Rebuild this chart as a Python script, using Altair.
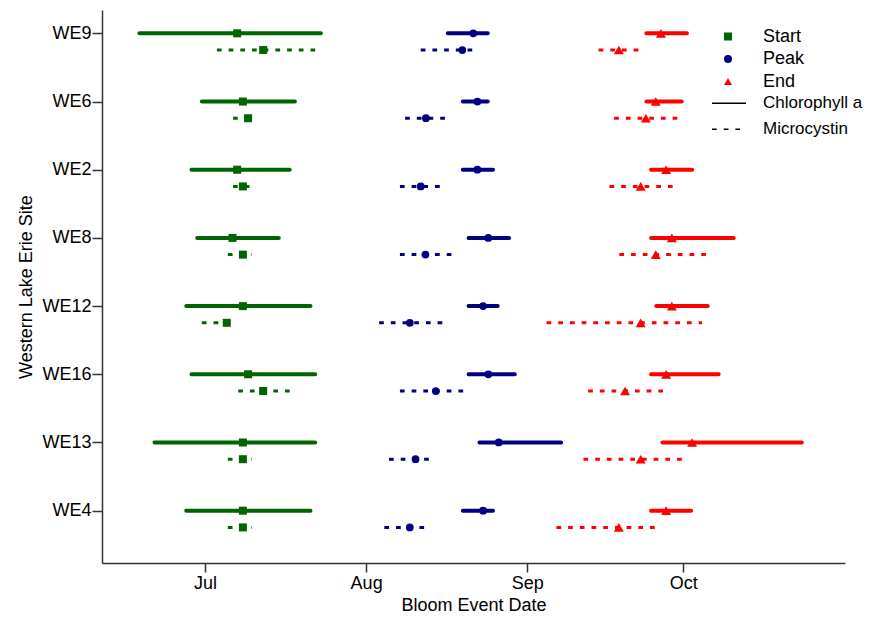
import altair as alt
import pandas as pd

# Sites, top to bottom
sites = ["WE9", "WE6", "WE2", "WE8", "WE12", "WE16", "WE13", "WE4"]
events = ["Start", "Peak", "End"]
variables = ["Chlorophyll a", "Microcystin"]
event_colors = ["#006400", "#000080", "#ff0000"]
event_shapes = ["square", "circle", "triangle-up"]
event_sizes = [64, 60, 100]

# x tick marks (day of year) and their labels
month_days = [182, 213, 244, 274]
month_labels = ["Jul", "Aug", "Sep", "Oct"]

# Day-of-year values (low, mean, high)
chl_start_lo = [169.4, 181.4, 179.4, 180.5, 178.4, 179.4, 172.3, 178.4]
chl_start = [188.2, 189.3, 188.2, 187.3, 189.3, 190.3, 189.3, 189.3]
chl_start_hi = [204.3, 199.3, 198.3, 196.2, 202.3, 203.2, 203.2, 202.3]
mc_start_lo = [184.3, 187.4, 187.4, 186.4, 181.4, 188.4, 186.4, 186.4]
mc_start = [193.2, 190.3, 189.3, 189.3, 186.2, 193.2, 189.3, 189.3]
mc_start_hi = [203.3, 191.9, 191.9, 191.0, 188.0, 199.3, 191.0, 191.0]

chl_peak_lo = [228.7, 231.6, 231.6, 232.7, 232.7, 232.7, 234.8, 231.6]
chl_peak = [233.6, 234.4, 234.4, 236.5, 235.5, 236.5, 238.5, 235.5]
chl_peak_hi = [236.4, 236.4, 237.4, 240.5, 238.3, 241.6, 250.5, 237.4]
mc_peak_lo = [223.5, 220.5, 219.5, 219.5, 215.5, 219.5, 217.4, 216.5]
mc_peak = [231.5, 224.5, 223.5, 224.4, 221.4, 226.4, 222.5, 221.4]
mc_peak_hi = [234.5, 229.4, 228.5, 230.5, 228.5, 232.4, 226.4, 225.4]

chl_end_lo = [266.9, 266.9, 267.8, 267.8, 268.8, 267.8, 270.0, 267.8]
chl_end = [269.7, 268.7, 270.7, 271.8, 271.8, 270.7, 275.7, 270.7]
chl_end_hi = [274.7, 273.7, 275.7, 283.7, 278.7, 280.8, 296.8, 275.5]
mc_end_lo = [257.7, 260.7, 259.8, 261.7, 247.7, 255.7, 254.8, 249.6]
mc_end = [261.6, 266.8, 265.8, 268.7, 265.8, 262.8, 265.8, 261.6]
mc_end_hi = [266.6, 273.8, 272.8, 279.1, 277.6, 271.0, 274.1, 269.1]

series = {
    ("Start", "Chlorophyll a"): (chl_start_lo, chl_start, chl_start_hi),
    ("Start", "Microcystin"): (mc_start_lo, mc_start, mc_start_hi),
    ("Peak", "Chlorophyll a"): (chl_peak_lo, chl_peak, chl_peak_hi),
    ("Peak", "Microcystin"): (mc_peak_lo, mc_peak, mc_peak_hi),
    ("End", "Chlorophyll a"): (chl_end_lo, chl_end, chl_end_hi),
    ("End", "Microcystin"): (mc_end_lo, mc_end, mc_end_hi),
}

n = len(sites)
color_of = dict(zip(events, event_colors))
size_of = dict(zip(events, event_sizes))
rows = []
for (ev, var), (lo, mid, hi) in series.items():
    for i, s in enumerate(sites):
        pos = (n - i) - (0.245 if var == "Microcystin" else 0.0)
        rows.append(dict(site=s, event=ev, variable=var,
                         line_color=color_of[ev], msize=size_of[ev],
                         lo=lo[i], mid=mid[i], hi=hi[i], pos=pos))
df = pd.DataFrame(rows)

FONT = "Liberation Sans"

x_expr = " : ".join(
    f"datum.value == {d} ? '{l}'" for d, l in zip(month_days, month_labels)
) + " : ''"
site_list = "[''," + ",".join(f"'{s}'" for s in reversed(sites)) + "]"
y_expr = f"{site_list}[datum.value]"

x_axis = alt.Axis(values=month_days, labelExpr=x_expr, title="Bloom Event Date",
                  grid=False, tickSize=9, labelPadding=2, titlePadding=4)
y_axis = alt.Axis(values=list(range(1, n + 1)), labelExpr=y_expr,
                  title="Western Lake Erie Site", grid=False, tickSize=10,
                  labelPadding=1, titlePadding=6)

x_scale = alt.Scale(domain=[162.2, 305.1], nice=False, zero=False)
y_scale = alt.Scale(domain=[0.233, 8.342], nice=False, zero=False)

base = alt.Chart(df)

dash_legend = alt.Legend(title=None, orient="none", legendX=609, legendY=75.3,
                         symbolType="stroke", symbolStrokeColor="black",
                         symbolStrokeWidth=1.5, symbolSize=1156,
                         labelOffset=16, rowPadding=-14.6, padding=0,
                         labelFontSize=17)
stroke_dash = alt.StrokeDash("variable:N",
                             scale=alt.Scale(domain=variables, range=[[1, 0], [4.7, 7]]),
                             legend=dash_legend)
stroke = alt.Stroke("line_color:N", scale=None)

chl = base.transform_filter(alt.datum.variable == "Chlorophyll a").mark_rule(
    strokeWidth=4, strokeCap="round"
).encode(
    x=alt.X("lo:Q", scale=x_scale, axis=x_axis),
    x2="hi:Q",
    y=alt.Y("pos:Q", scale=y_scale, axis=y_axis),
    stroke=stroke,
    strokeDash=stroke_dash,
)

mc = base.transform_filter(alt.datum.variable == "Microcystin").mark_rule(
    strokeWidth=3, strokeCap="butt"
).encode(
    x=alt.X("lo:Q", scale=x_scale, axis=x_axis),
    x2="hi:Q",
    y=alt.Y("pos:Q", scale=y_scale, axis=y_axis),
    stroke=stroke,
    strokeDash=stroke_dash,
)

ev_legend = alt.Legend(title=None, orient="none", legendX=617, legendY=17.5,
                       symbolSize=64, labelOffset=26, rowPadding=4.5, padding=0,
                       labelFontSize=18)
pts = base.mark_point(filled=True, opacity=1).encode(
    x=alt.X("mid:Q", scale=x_scale, axis=x_axis),
    y=alt.Y("pos:Q", scale=y_scale, axis=y_axis),
    color=alt.Color("event:N", scale=alt.Scale(domain=events, range=event_colors),
                    legend=ev_legend),
    shape=alt.Shape("event:N", scale=alt.Scale(domain=events, range=event_shapes),
                    legend=ev_legend),
    size=alt.Size("msize:Q", scale=None),
)

chart = alt.layer(chl, mc, pts).properties(
    width=743, height=553,
    autosize=alt.AutoSizeParams(type="none"),
    padding={"left": 94, "top": 2, "right": 22, "bottom": 50},
).configure_view(stroke=None).configure_axis(
    labelFont=FONT, titleFont=FONT, labelFontSize=18, titleFontSize=18,
    titleFontWeight="normal", labelColor="black", titleColor="black",
    domainColor="#333333", tickColor="#333333", domainWidth=1.5, tickWidth=1.5,
).configure_legend(
    labelFont=FONT, labelColor="black",
)

chart.save("out.html", embed_options={"renderer": "svg", "actions": False})
